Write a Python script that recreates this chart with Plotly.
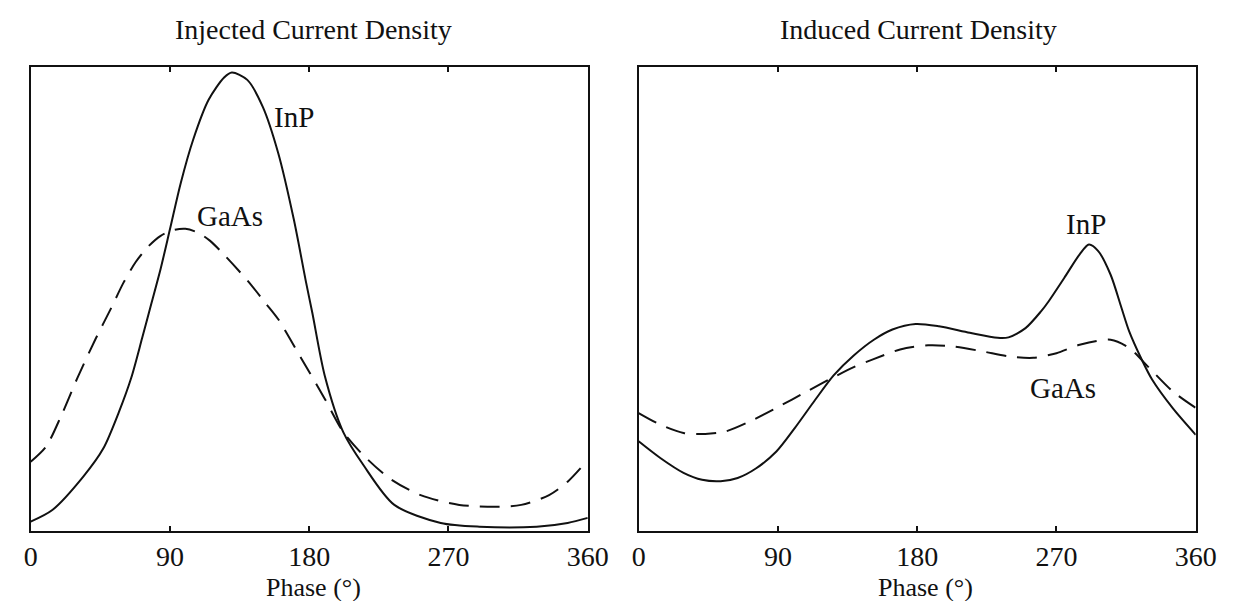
import plotly.graph_objects as go
from plotly.subplots import make_subplots

# Injected current density (left panel), values normalised to the frame height
inj_inp_phase = [0, 14, 34, 47, 57, 65, 72, 78, 84, 90, 97, 105, 115, 125, 130, 140, 150,
                 160, 170, 178, 182, 190, 202, 215, 235, 265, 290, 327, 347, 360]
inj_inp_val = [0.02, 0.045, 0.117, 0.178, 0.256, 0.33, 0.415, 0.49, 0.565, 0.65, 0.75, 0.843,
               0.929, 0.977, 0.988, 0.972, 0.914, 0.814, 0.672, 0.535, 0.47, 0.335, 0.213, 0.142,
               0.056, 0.017, 0.009, 0.009, 0.017, 0.028]

inj_gaas_phase = [0, 10, 20, 30, 42, 52, 60, 68, 76, 84, 92, 100, 108, 116, 125, 140, 152, 160,
                  175, 190, 202, 215, 232, 252, 277, 302, 317, 335, 347, 358]
inj_gaas_val = [0.149, 0.182, 0.25, 0.328, 0.414, 0.48, 0.535, 0.58, 0.613, 0.636, 0.648, 0.651,
                0.643, 0.625, 0.595, 0.54, 0.49, 0.456, 0.371, 0.285, 0.213, 0.163, 0.113, 0.077,
                0.056, 0.052, 0.056, 0.077, 0.106, 0.145]

# Induced current density (right panel)
ind_inp_phase = [0, 14, 29, 41, 53, 64, 76, 89, 101, 114, 126, 139, 152, 164, 179, 194, 214,
                 232, 239, 250, 260, 265, 275, 285, 291, 297, 305, 312, 317, 325, 332, 345, 360]
ind_inp_val = [0.193, 0.157, 0.125, 0.110, 0.107, 0.114, 0.135, 0.171, 0.222, 0.282, 0.335,
               0.378, 0.412, 0.434, 0.446, 0.441, 0.427, 0.416, 0.417, 0.437, 0.473, 0.495,
               0.545, 0.596, 0.617, 0.603, 0.552, 0.481, 0.43, 0.37, 0.325, 0.265, 0.207]

ind_gaas_phase = [0, 14, 29, 43, 56, 72, 89, 109, 127, 139, 151, 169, 187, 202, 222, 239, 255,
                  270, 285, 305, 317, 330, 345, 360]
ind_gaas_val = [0.254, 0.229, 0.211, 0.209, 0.214, 0.236, 0.265, 0.301, 0.333, 0.353, 0.369,
                0.391, 0.400, 0.398, 0.387, 0.376, 0.373, 0.383, 0.401, 0.412, 0.394, 0.351,
                0.301, 0.265]

tick_vals = [0, 90, 180, 270, 360]
tick_text = ["0", "90", "180", "270", "360"]

FONT = "Liberation Serif, Times New Roman, serif"
INK = "#111111"

fig = make_subplots(rows=1, cols=2)

solid = dict(color=INK, width=2, shape="spline", smoothing=0.8)
dashed = dict(color=INK, width=2, shape="spline", smoothing=0.8, dash="20px,11px")

fig.add_trace(go.Scatter(x=inj_inp_phase, y=inj_inp_val, mode="lines", line=solid), row=1, col=1)
fig.add_trace(go.Scatter(x=inj_gaas_phase, y=inj_gaas_val, mode="lines", line=dashed), row=1, col=1)
fig.add_trace(go.Scatter(x=ind_inp_phase, y=ind_inp_val, mode="lines", line=solid), row=1, col=2)
fig.add_trace(go.Scatter(x=ind_gaas_phase, y=ind_gaas_val, mode="lines", line=dashed), row=1, col=2)

xcommon = dict(range=[0, 360], tickvals=tick_vals, ticktext=tick_text, ticks="inside",
               ticklen=5, tickwidth=1.5, tickcolor=INK, showline=True, linecolor=INK,
               linewidth=2, mirror="ticks", showgrid=False, zeroline=False,
               tickfont=dict(family=FONT, size=28, color=INK), ticklabelstandoff=0)
ycommon = dict(range=[0, 1], showticklabels=False, ticks="", showline=True, linecolor=INK,
               linewidth=2, mirror=True, showgrid=False, zeroline=False)

fig.update_xaxes(xcommon)
fig.update_yaxes(ycommon)
fig.update_layout(
    xaxis=dict(domain=[0.0129, 0.4718]),
    xaxis2=dict(domain=[0.5137, 0.9726]),
    yaxis=dict(domain=[0.13, 0.902]),
    yaxis2=dict(domain=[0.13, 0.902]),
)

labels = [
    ("x", "y", 170, 0.893, "InP"),
    ("x", "y", 129, 0.678, "GaAs"),
    ("x2", "y2", 289, 0.662, "InP"),
    ("x2", "y2", 274, 0.308, "GaAs"),
]
for xr, yr, xv, yv, txt in labels:
    fig.add_annotation(xref=xr, yref=yr, x=xv, y=yv, text=txt, showarrow=False,
                       xanchor="center", yanchor="middle",
                       font=dict(family=FONT, size=29, color=INK))

# panel titles and axis titles
for xc, title in [(0.2456, "Injected Current Density"), (0.744, "Induced Current Density")]:
    fig.add_annotation(xref="paper", yref="paper", x=xc, y=0.964, text=title, showarrow=False,
                       xanchor="center", yanchor="middle",
                       font=dict(family=FONT, size=28, color=INK))
for xc in [0.246, 0.75]:
    fig.add_annotation(xref="paper", yref="paper", x=xc, y=0.0, text="Phase (°)", showarrow=False,
                       xanchor="center", yanchor="bottom", yshift=5,
                       font=dict(family=FONT, size=26, color=INK))

fig.update_layout(
    width=1242, height=601,
    margin=dict(l=0, r=0, t=0, b=0),
    paper_bgcolor="white", plot_bgcolor="white",
    showlegend=False,
)

fig.write_html("out.html")
